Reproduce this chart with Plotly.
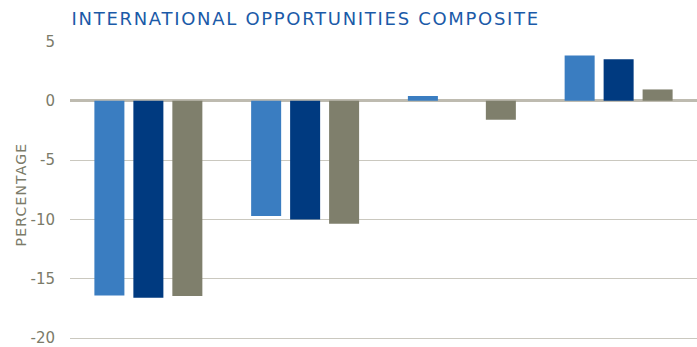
import plotly.graph_objects as go

# Four categories, three series each (returns in percent)
categories = ["A", "B", "C", "D"]
series_1 = [-16.4, -9.7, 0.4, 3.8]
series_2 = [-16.6, -10.0, None, 3.5]
series_3 = [-16.45, -10.35, -1.6, 0.95]
tick_vals = [5, 0, -5, -10, -15, -20]
tick_text = ["5", "0", "-5", "-10", "-15", "-20"]

colors = ["#3a7dc1", "#003a80", "#7f7f6c"]
text_gray = "#7b7b69"

fig = go.Figure()
for name, vals, col in zip(["Series 1", "Series 2", "Series 3"],
                           [series_1, series_2, series_3], colors):
    fig.add_trace(go.Bar(x=categories, y=vals, name=name,
                         marker=dict(color=col, line=dict(width=0))))

fig.update_layout(
    width=697, height=347,
    margin=dict(l=70, r=0, t=41, b=4),
    plot_bgcolor="white", paper_bgcolor="white",
    barmode="group", bargap=0.254, bargroupgap=0.23,
    showlegend=False,
    font=dict(family="DejaVu Sans", color=text_gray),
    xaxis=dict(showticklabels=False, showgrid=False, zeroline=False,
               showline=False, range=[-0.5, 3.5]),
    yaxis=dict(range=[-20.15, 5.03], tickvals=tick_vals, ticktext=tick_text,
               tickfont=dict(size=15, color=text_gray),
               showgrid=True, gridcolor="#cac8bf", gridwidth=1,
               zeroline=True, zerolinecolor="#bebbb0", zerolinewidth=3,
               showline=False, ticklabelstandoff=14,
               ticklabeloverflow="allow"),
    annotations=[
        dict(text="INTERNATIONAL OPPORTUNITIES COMPOSITE",
             xref="paper", yref="paper", x=0, y=1,
             xanchor="left", yanchor="middle", xshift=31, yshift=23,
             showarrow=False,
             font=dict(size=18, color="#1b5aa8", family="DejaVu Sans")),
        dict(text="PERCENTAGE", textangle=-90,
             xref="paper", yref="paper", x=0, y=0.5, xshift=-50, yshift=-4,
             xanchor="center", yanchor="middle", showarrow=False,
             font=dict(size=14, color=text_gray, family="DejaVu Sans")),
    ],
)

# widen the letter tracking of the title texts
tracking = """
var t = document.querySelectorAll('.annotation-text');
if (t.length > 0) { t[0].style.letterSpacing = '1.7px'; }
if (t.length > 1) { t[1].style.letterSpacing = '1.2px'; }
"""

fig.write_html("out.html", post_script=tracking)
